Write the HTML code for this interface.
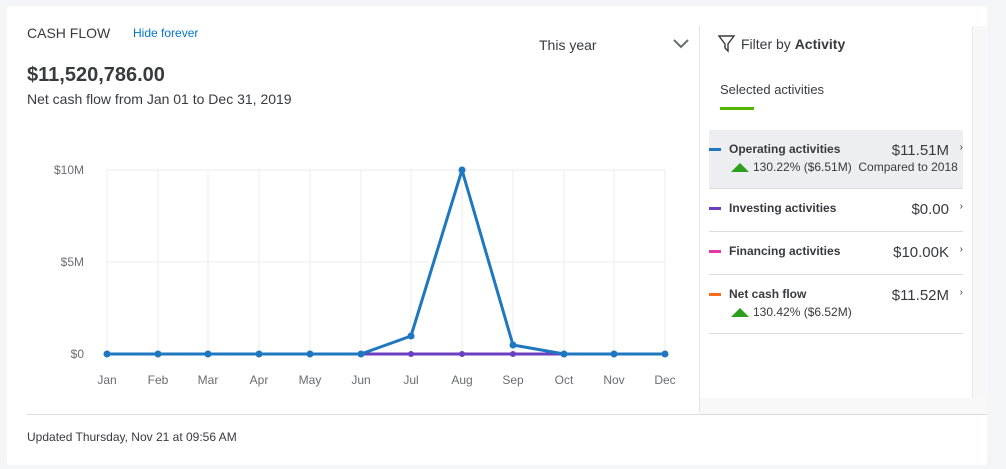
<!DOCTYPE html><html><head><style>
body{margin:0;width:1006px;height:469px;background:#f4f5f8;font-family:"Liberation Sans",sans-serif;position:relative;overflow:hidden}
.card{position:absolute;left:7px;top:6px;width:980px;height:459px;background:#fff;border-radius:3px}
.t{position:absolute;white-space:nowrap}
.row{position:absolute;left:709px;width:254px;border-bottom:1px solid #ddd}
.dash{position:absolute;left:0;width:12px;height:3px}
.nm{position:absolute;left:20px;font-size:12px;font-weight:bold;color:#393a3d}
.val{position:absolute;right:14px;font-size:15px;color:#393a3d}
.ch{position:absolute;right:0;font-size:10px;color:#393a3d}
.sub{position:absolute;left:22px;font-size:12px;color:#393a3d}
.tri{display:inline-block;width:0;height:0;border-left:9px solid transparent;border-right:9px solid transparent;border-bottom:9px solid #2ca01c;margin-right:4px;vertical-align:-1px}
</style></head><body>
<div class="card"></div>
<div class="t" style="left:27px;top:25px;font-size:14px;color:#393a3d">CASH FLOW</div>
<div class="t" style="left:133px;top:26px;font-size:12px;color:#0077c5">Hide forever</div>
<div class="t" style="left:27px;top:64px;font-size:20px;font-weight:bold;color:#393a3d">$11,520,786.00</div>
<div class="t" style="left:27px;top:91px;font-size:14px;color:#393a3d">Net cash flow from Jan 01 to Dec 31, 2019</div>
<div class="t" style="left:539px;top:37px;font-size:14px;color:#393a3d">This year</div>
<svg style="position:absolute;left:672px;top:38px" width="18" height="12"><path d="M2 2 L9 9 L16 2" fill="none" stroke="#6b6c72" stroke-width="2"/></svg>
<svg style="position:absolute;left:0;top:0" width="700" height="400">
<g stroke="#ececec" stroke-width="1">
<line x1="107" y1="170" x2="665" y2="170"/><line x1="107" y1="262" x2="665" y2="262"/>
<line x1="107" y1="170" x2="107" y2="354"/><line x1="158" y1="170" x2="158" y2="354"/><line x1="208" y1="170" x2="208" y2="354"/><line x1="259" y1="170" x2="259" y2="354"/><line x1="310" y1="170" x2="310" y2="354"/><line x1="361" y1="170" x2="361" y2="354"/><line x1="411" y1="170" x2="411" y2="354"/><line x1="462" y1="170" x2="462" y2="354"/><line x1="513" y1="170" x2="513" y2="354"/><line x1="564" y1="170" x2="564" y2="354"/><line x1="614" y1="170" x2="614" y2="354"/><line x1="665" y1="170" x2="665" y2="354"/>
</g>
<g font-size="12" fill="#6b6c72" font-family="Liberation Sans">
<text x="84" y="174" text-anchor="end">$10M</text><text x="84" y="266" text-anchor="end">$5M</text><text x="84" y="358" text-anchor="end">$0</text>
<g text-anchor="middle"><text x="107" y="384">Jan</text><text x="158" y="384">Feb</text><text x="208" y="384">Mar</text><text x="259" y="384">Apr</text><text x="310" y="384">May</text><text x="361" y="384">Jun</text><text x="411" y="384">Jul</text><text x="462" y="384">Aug</text><text x="513" y="384">Sep</text><text x="564" y="384">Oct</text><text x="614" y="384">Nov</text><text x="665" y="384">Dec</text></g>
</g>
<polyline points="107,354 665,354" stroke="#6b3fbf" stroke-width="3" fill="none"/>
<polyline points="107,354 158,354 208,354 259,354 310,354 361,354 411,336 462,170 513,345 564,354 614,354 665,354" stroke="#1f77c0" stroke-width="3" fill="none" stroke-linejoin="round"/>
<g fill="#1f77c0"><circle cx="107" cy="354" r="3.5"/><circle cx="158" cy="354" r="3.5"/><circle cx="208" cy="354" r="3.5"/><circle cx="259" cy="354" r="3.5"/><circle cx="310" cy="354" r="3.5"/><circle cx="361" cy="354" r="3.5"/><circle cx="411" cy="336" r="3.5"/><circle cx="462" cy="170" r="3.5"/><circle cx="513" cy="345" r="3.5"/><circle cx="564" cy="354" r="3.5"/><circle cx="614" cy="354" r="3.5"/><circle cx="665" cy="354" r="3.5"/></g>
<g fill="#6b3fbf"><circle cx="411" cy="354" r="3"/><circle cx="462" cy="354" r="3"/><circle cx="513" cy="354" r="3"/></g>
</svg>
<div style="position:absolute;left:699px;top:26px;width:1px;height:386px;background:#e3e3e3"></div>
<div style="position:absolute;left:972px;top:26px;width:15px;height:372px;background:#f7f7f8;border-left:1px solid #e8e8e8"></div>
<div style="position:absolute;left:700px;top:398px;width:287px;height:16px;background:#f8f8f9"></div>
<svg style="position:absolute;left:718px;top:35px" width="18" height="18"><path d="M1 1 H16 L10 9 V16 L7 13 V9 Z" fill="none" stroke="#393a3d" stroke-width="1.4"/></svg>
<div class="t" style="left:741px;top:36px;font-size:14px;color:#393a3d">Filter by <b>Activity</b></div>
<div class="t" style="left:720px;top:82px;font-size:13px;color:#393a3d">Selected activities</div>
<div style="position:absolute;left:720px;top:107px;width:34px;height:3px;background:#53b700"></div>
<div class="row" style="top:130px;height:58px;background:#eceef1">
<div class="dash" style="top:18px;background:#1f77c0"></div><div class="nm" style="top:12px">Operating activities</div><div class="val" style="top:12px">$11.51M</div><div class="ch" style="top:12px">›</div>
<div class="sub" style="top:30px"><span class="tri"></span>130.22% ($6.51M)&nbsp; Compared to 2018</div></div>
<div class="row" style="top:189px;height:42px"><div class="dash" style="top:18px;background:#6b3fbf"></div><div class="nm" style="top:12px">Investing activities</div><div class="val" style="top:12px">$0.00</div><div class="ch" style="top:12px">›</div></div>
<div class="row" style="top:232px;height:42px"><div class="dash" style="top:18px;background:#e535ab"></div><div class="nm" style="top:12px">Financing activities</div><div class="val" style="top:12px">$10.00K</div><div class="ch" style="top:12px">›</div></div>
<div class="row" style="top:275px;height:58px"><div class="dash" style="top:18px;background:#ff6a1a"></div><div class="nm" style="top:12px">Net cash flow</div><div class="val" style="top:12px">$11.52M</div><div class="ch" style="top:12px">›</div>
<div class="sub" style="top:30px"><span class="tri"></span>130.42% ($6.52M)</div></div>
<div style="position:absolute;left:27px;top:414px;width:960px;height:1px;background:#ddd"></div>
<div class="t" style="left:27px;top:430px;font-size:12px;color:#393a3d">Updated Thursday, Nov 21 at 09:56 AM</div>
</body></html>
